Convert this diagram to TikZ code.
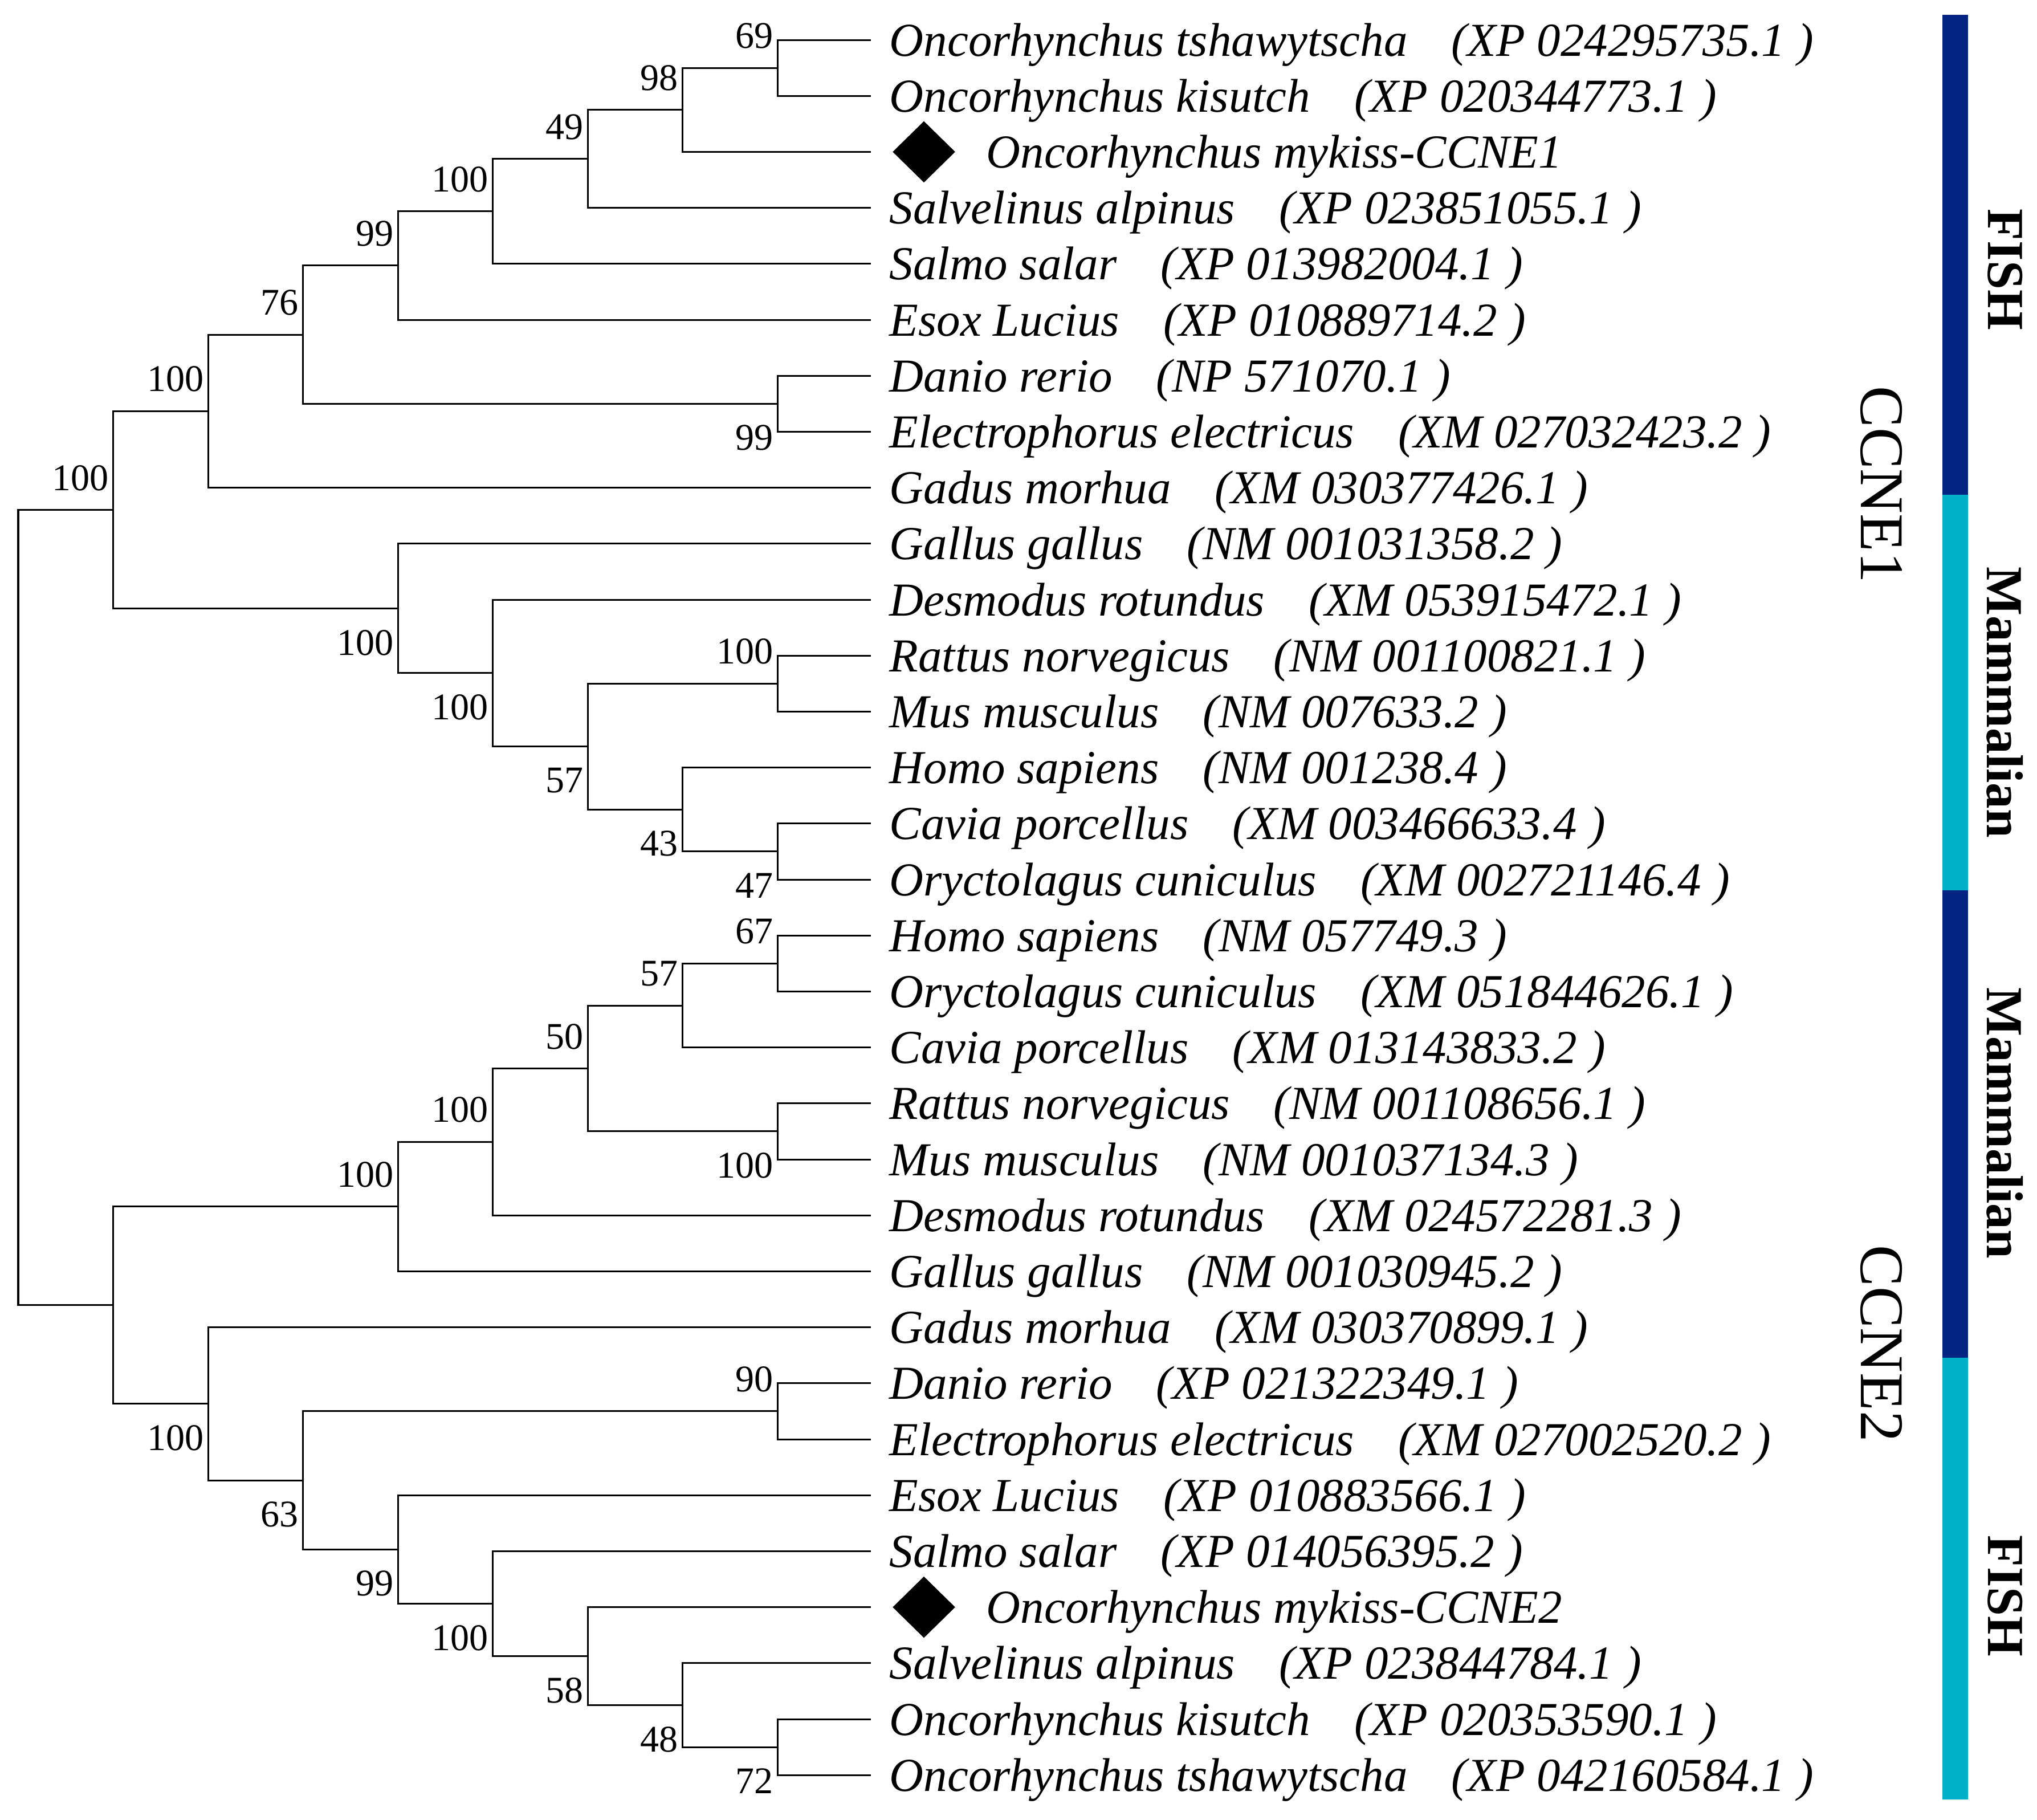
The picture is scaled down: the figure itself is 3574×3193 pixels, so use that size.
\documentclass[tikz,border=0pt]{standalone}
\usepackage{fontspec}
\setmainfont{Liberation Serif}
\usetikzlibrary{shapes.geometric}
\definecolor{navy}{RGB}{2,37,132}
\definecolor{aqua}{RGB}{0,176,200}
\newcommand{\acc}[1]{\hspace{0.93em}(#1\hspace{0.27em})}

\begin{document}
\begin{tikzpicture}[
        x=0.01cm, y=-0.01cm,
        branch/.style={line width=0.03cm},
        leaf/.style={anchor=base west, inner sep=0, xshift=0.32cm, yshift=-0.28cm,
          font=\fontsize{23.6}{26}\selectfont\itshape},
        tagged/.style={leaf, xshift=1.70cm},
        gem/.style={diamond, fill=black, inner sep=0, minimum width=1.1cm,
          minimum height=1.08cm, xshift=0.93cm},
        supa/.style={anchor=south east, inner sep=0, xshift=-0.07cm, yshift=0.33cm,
          font=\fontsize{18.8}{20}\selectfont},
        supb/.style={anchor=north east, inner sep=0, xshift=-0.07cm, yshift=-0.37cm,
          font=\fontsize{18.8}{20}\selectfont},
        gene/.style={rotate=-90, inner sep=0, font=\fontsize{31}{34}\selectfont},
        group/.style={rotate=-90, inner sep=0, font=\fontsize{25.9}{28}\selectfont\bfseries}
        ]
        \useasboundingbox (0,0) rectangle (3574,3193);

        % leaf ends
        \coordinate (l1) at (1528,70);
        \coordinate (l2) at (1528,168.2);
        \coordinate (l3) at (1528,266.4);
        \coordinate (l4) at (1528,364.6);
        \coordinate (l5) at (1528,462.8);
        \coordinate (l6) at (1528,561);
        \coordinate (l7) at (1528,659.2);
        \coordinate (l8) at (1528,757.4);
        \coordinate (l9) at (1528,855.6);
        \coordinate (l10) at (1528,953.8);
        \coordinate (l11) at (1528,1052);
        \coordinate (l12) at (1528,1150.2);
        \coordinate (l13) at (1528,1248.4);
        \coordinate (l14) at (1528,1346.6);
        \coordinate (l15) at (1528,1444.8);
        \coordinate (l16) at (1528,1543);
        \coordinate (l17) at (1528,1641.2);
        \coordinate (l18) at (1528,1739.4);
        \coordinate (l19) at (1528,1837.6);
        \coordinate (l20) at (1528,1935.8);
        \coordinate (l21) at (1528,2034);
        \coordinate (l22) at (1528,2132.2);
        \coordinate (l23) at (1528,2230.4);
        \coordinate (l24) at (1528,2328.6);
        \coordinate (l25) at (1528,2426.8);
        \coordinate (l26) at (1528,2525);
        \coordinate (l27) at (1528,2623.2);
        \coordinate (l28) at (1528,2721.4);
        \coordinate (l29) at (1528,2819.6);
        \coordinate (l30) at (1528,2917.8);
        \coordinate (l31) at (1528,3016);
        \coordinate (l32) at (1528,3114.2);

        % inner nodes
        \coordinate (root) at (32,1642.1);
        \coordinate (n100c) at (198.5,894.4);
        \coordinate (n100l) at (198.5,2289.8);
        \coordinate (n100b) at (365,721.3);
        \coordinate (n76) at (531.5,587.1);
        \coordinate (n99a) at (698,465.9);
        \coordinate (n100a) at (864.5,370.7);
        \coordinate (n49) at (1031,278.7);
        \coordinate (n98) at (1197.5,192.8);
        \coordinate (n69) at (1364,119.1);
        \coordinate (n99b) at (1364,708.3);
        \coordinate (n100f) at (698,1067.4);
        \coordinate (n100e) at (864.5,1180.9);
        \coordinate (n57) at (1031,1309.8);
        \coordinate (n43) at (1197.5,1420.2);
        \coordinate (n100d) at (1364,1199.3);
        \coordinate (n47) at (1364,1493.9);
        \coordinate (n100i) at (698,2116.9);
        \coordinate (n100h) at (864.5,2003.3);
        \coordinate (n50) at (1031,1874.4);
        \coordinate (n57b) at (1197.5,1764);
        \coordinate (n67) at (1364,1690.3);
        \coordinate (n100g) at (1364,1984.9);
        \coordinate (n100k) at (365,2462.8);
        \coordinate (n63) at (531.5,2597);
        \coordinate (n90) at (1364,2475.9);
        \coordinate (n99c) at (698,2718.3);
        \coordinate (n100j) at (864.5,2813.5);
        \coordinate (n58) at (1031,2905.5);
        \coordinate (n48) at (1197.5,2991.5);
        \coordinate (n72) at (1364,3065.1);

        % branches
        \draw[branch] (root) |- (n100c);
        \draw[branch] (root) |- (n100l);
        \draw[branch] (n100c) |- (n100b);
        \draw[branch] (n100c) |- (n100f);
        \draw[branch] (n100b) |- (n76);
        \draw[branch] (n100b) |- (l9);
        \draw[branch] (n76) |- (n99a);
        \draw[branch] (n76) |- (n99b);
        \draw[branch] (n99a) |- (n100a);
        \draw[branch] (n99a) |- (l6);
        \draw[branch] (n100a) |- (n49);
        \draw[branch] (n100a) |- (l5);
        \draw[branch] (n49) |- (n98);
        \draw[branch] (n49) |- (l4);
        \draw[branch] (n98) |- (n69);
        \draw[branch] (n98) |- (l3);
        \draw[branch] (n69) |- (l1);
        \draw[branch] (n69) |- (l2);
        \draw[branch] (n99b) |- (l7);
        \draw[branch] (n99b) |- (l8);
        \draw[branch] (n100f) |- (l10);
        \draw[branch] (n100f) |- (n100e);
        \draw[branch] (n100e) |- (l11);
        \draw[branch] (n100e) |- (n57);
        \draw[branch] (n57) |- (n100d);
        \draw[branch] (n57) |- (n43);
        \draw[branch] (n100d) |- (l12);
        \draw[branch] (n100d) |- (l13);
        \draw[branch] (n43) |- (l14);
        \draw[branch] (n43) |- (n47);
        \draw[branch] (n47) |- (l15);
        \draw[branch] (n47) |- (l16);
        \draw[branch] (n100l) |- (n100i);
        \draw[branch] (n100l) |- (n100k);
        \draw[branch] (n100i) |- (n100h);
        \draw[branch] (n100i) |- (l23);
        \draw[branch] (n100h) |- (n50);
        \draw[branch] (n100h) |- (l22);
        \draw[branch] (n50) |- (n57b);
        \draw[branch] (n50) |- (n100g);
        \draw[branch] (n57b) |- (n67);
        \draw[branch] (n57b) |- (l19);
        \draw[branch] (n67) |- (l17);
        \draw[branch] (n67) |- (l18);
        \draw[branch] (n100g) |- (l20);
        \draw[branch] (n100g) |- (l21);
        \draw[branch] (n100k) |- (l24);
        \draw[branch] (n100k) |- (n63);
        \draw[branch] (n63) |- (n90);
        \draw[branch] (n63) |- (n99c);
        \draw[branch] (n90) |- (l25);
        \draw[branch] (n90) |- (l26);
        \draw[branch] (n99c) |- (l27);
        \draw[branch] (n99c) |- (n100j);
        \draw[branch] (n100j) |- (l28);
        \draw[branch] (n100j) |- (n58);
        \draw[branch] (n58) |- (l29);
        \draw[branch] (n58) |- (n48);
        \draw[branch] (n48) |- (l30);
        \draw[branch] (n48) |- (n72);
        \draw[branch] (n72) |- (l31);
        \draw[branch] (n72) |- (l32);

        % bootstrap values
        \node[supa] (s69) at (n69) {69};
        \node[supa] (s98) at (n98) {98};
        \node[supa] (s49) at (n49) {49};
        \node[supa] (s100a) at (n100a) {100};
        \node[supa] (s99a) at (n99a) {99};
        \node[supa] (s76) at (n76) {76};
        \node[supa] (s100b) at (n100b) {100};
        \node[supa] (s100c) at (n100c) {100};
        \node[supb] (s99b) at (n99b) {99};
        \node[supb] (s100f) at (n100f) {100};
        \node[supb] (s100e) at (n100e) {100};
        \node[supa] (s100d) at (n100d) {100};
        \node[supb] (s57) at (n57) {57};
        \node[supb] (s43) at (n43) {43};
        \node[supb] (s47) at (n47) {47};
        \node[supa] (s67) at (n67) {67};
        \node[supa] (s57b) at (n57b) {57};
        \node[supa] (s50) at (n50) {50};
        \node[supa] (s100h) at (n100h) {100};
        \node[supa] (s100i) at (n100i) {100};
        \node[supb] (s100g) at (n100g) {100};
        \node[supb] (s100k) at (n100k) {100};
        \node[supb] (s63) at (n63) {63};
        \node[supa] (s90) at (n90) {90};
        \node[supb] (s99c) at (n99c) {99};
        \node[supb] (s100j) at (n100j) {100};
        \node[supb] (s58) at (n58) {58};
        \node[supb] (s48) at (n48) {48};
        \node[supb] (s72) at (n72) {72};

        % taxa
        \node[leaf] (t1) at (l1) {Oncorhynchus tshawytscha\acc{XP 024295735.1}};
        \node[leaf] (t2) at (l2) {Oncorhynchus kisutch\acc{XP 020344773.1}};
        \node[gem] (d3) at (l3) {};
        \node[tagged] (t3) at (l3) {Oncorhynchus mykiss-CCNE1};
        \node[leaf] (t4) at (l4) {Salvelinus alpinus\acc{XP 023851055.1}};
        \node[leaf] (t5) at (l5) {Salmo salar\acc{XP 013982004.1}};
        \node[leaf] (t6) at (l6) {Esox Lucius\acc{XP 010889714.2}};
        \node[leaf] (t7) at (l7) {Danio rerio\acc{NP 571070.1}};
        \node[leaf] (t8) at (l8) {Electrophorus electricus\acc{XM 027032423.2}};
        \node[leaf] (t9) at (l9) {Gadus morhua\acc{XM 030377426.1}};
        \node[leaf] (t10) at (l10) {Gallus gallus\acc{NM 001031358.2}};
        \node[leaf] (t11) at (l11) {Desmodus rotundus\acc{XM 053915472.1}};
        \node[leaf] (t12) at (l12) {Rattus norvegicus\acc{NM 001100821.1}};
        \node[leaf] (t13) at (l13) {Mus musculus\acc{NM 007633.2}};
        \node[leaf] (t14) at (l14) {Homo sapiens\acc{NM 001238.4}};
        \node[leaf] (t15) at (l15) {Cavia porcellus\acc{XM 003466633.4}};
        \node[leaf] (t16) at (l16) {Oryctolagus cuniculus\acc{XM 002721146.4}};
        \node[leaf] (t17) at (l17) {Homo sapiens\acc{NM 057749.3}};
        \node[leaf] (t18) at (l18) {Oryctolagus cuniculus\acc{XM 051844626.1}};
        \node[leaf] (t19) at (l19) {Cavia porcellus\acc{XM 013143833.2}};
        \node[leaf] (t20) at (l20) {Rattus norvegicus\acc{NM 001108656.1}};
        \node[leaf] (t21) at (l21) {Mus musculus\acc{NM 001037134.3}};
        \node[leaf] (t22) at (l22) {Desmodus rotundus\acc{XM 024572281.3}};
        \node[leaf] (t23) at (l23) {Gallus gallus\acc{NM 001030945.2}};
        \node[leaf] (t24) at (l24) {Gadus morhua\acc{XM 030370899.1}};
        \node[leaf] (t25) at (l25) {Danio rerio\acc{XP 021322349.1}};
        \node[leaf] (t26) at (l26) {Electrophorus electricus\acc{XM 027002520.2}};
        \node[leaf] (t27) at (l27) {Esox Lucius\acc{XP 010883566.1}};
        \node[leaf] (t28) at (l28) {Salmo salar\acc{XP 014056395.2}};
        \node[gem] (d29) at (l29) {};
        \node[tagged] (t29) at (l29) {Oncorhynchus mykiss-CCNE2};
        \node[leaf] (t30) at (l30) {Salvelinus alpinus\acc{XP 023844784.1}};
        \node[leaf] (t31) at (l31) {Oncorhynchus kisutch\acc{XP 020353590.1}};
        \node[leaf] (t32) at (l32) {Oncorhynchus tshawytscha\acc{XP 042160584.1}};

        % gene families and groups
        \node[gene] (ccne1) at (3301,850) {CCNE1};
        \node[gene] (ccne2) at (3301,2357) {CCNE2};
        \fill[navy] (3408,26) rectangle (3453,868);
        \fill[aqua] (3408,868) rectangle (3453,1562);
        \fill[navy] (3408,1562) rectangle (3453,2382);
        \fill[aqua] (3408,2382) rectangle (3453,3157);
        \node[group] (fish1) at (3518,473) {FISH};
        \node[group] (mam1) at (3518,1232) {Mammalian};
        \node[group] (mam2) at (3518,1970) {Mammalian};
        \node[group] (fish2) at (3518,2800) {FISH};
        \end{tikzpicture}
\end{document}
